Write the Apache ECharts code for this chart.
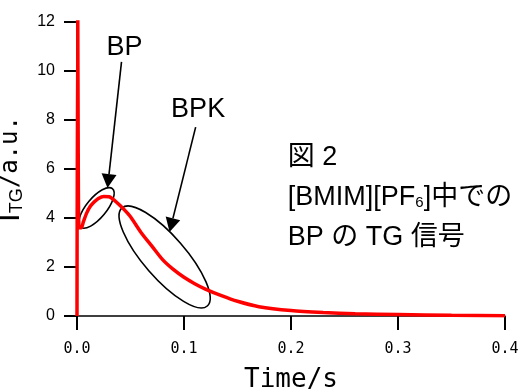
<!DOCTYPE html>
<html>
<head>
<meta charset="utf-8">
<script src="https://cdn.jsdelivr.net/npm/echarts@6/dist/echarts.min.js"></script>
<style>
html,body{margin:0;padding:0;background:#fff;}
#main{width:520px;height:389px;}
</style>
</head>
<body>
<div id="main"></div>
<script>
// 時間 (s) と TG 信号 (a.u.)
var timeS = [0, 0.0006, 0.0012, 0.002, 0.004, 0.006, 0.009, 0.012, 0.016, 0.020, 0.025, 0.030,
	0.035, 0.040, 0.045, 0.050, 0.060, 0.070, 0.080, 0.090, 0.100, 0.110, 0.120, 0.135,
	0.150, 0.170, 0.200, 0.230, 0.260, 0.300, 0.350, 0.400];
var signal = [0, 14, 6, 3.6, 3.6, 3.85, 4.2, 4.45, 4.65, 4.8, 4.88, 4.87,
	4.72, 4.52, 4.3, 4.05, 3.4, 2.85, 2.3, 1.9, 1.58, 1.32, 1.1, 0.83,
	0.6, 0.38, 0.22, 0.14, 0.09, 0.06, 0.03, 0.01];
var xTicks = [0, 0.1, 0.2, 0.3, 0.4];
var yTicks = [0, 2, 4, 6, 8, 10, 12];

// 注釈 (データ座標)
var bpText = [0.0445, 10.94];
var bpArrow = [[0.0416, 10.37], [0.0285, 5.22]];
var bpkText = [0.1132, 8.41];
var bpkArrow = [[0.1109, 7.71], [0.0865, 3.43]];
var smallEllipse = [0.0182, 4.41];
var largeEllipse = [0.0819, 2.41];
var noteAnchor = [0.197, 6.61];

var seriesData = [];
for (var i = 0; i < timeS.length; i++) {
	seriesData.push([timeS[i], signal[i]]);
}
var tickData = [];
for (var j = 0; j < xTicks.length; j++) {
	tickData.push([xTicks[j], yTicks[0]]);
}

var chart = echarts.init(document.getElementById('main'));
var axisFont = 'Liberation Sans, Arial, sans-serif';
var monoFont = 'DejaVu Sans Mono, monospace';

var option = {
	backgroundColor: '#ffffff',
	animation: false,
	grid: {left: 77, right: 15, top: 22, bottom: 73, outerBoundsMode: 'none'},
	xAxis: {
		type: 'value',
		min: xTicks[0],
		max: xTicks[xTicks.length - 1],
		interval: 0.1,
		name: 'Time/s',
		nameLocation: 'middle',
		nameGap: 51,
		nameTextStyle: {fontFamily: monoFont, fontSize: 26, color: '#000'},
		axisLine: {lineStyle: {color: '#000', width: 1.5}},
		axisTick: {show: true, length: 14, lineStyle: {color: '#000', width: 2}},
		axisLabel: {
			margin: 26, color: '#000', fontFamily: monoFont, fontSize: 15,
			formatter: function (v) { return v.toFixed(1); }
		},
		splitLine: {show: false}
	},
	yAxis: {
		type: 'value',
		min: yTicks[0],
		max: yTicks[yTicks.length - 1],
		interval: 2,
		name: '{i|I}{sub|TG}{u|/a.u.}',
		nameLocation: 'middle',
		nameRotate: 90,
		nameGap: 42,
		nameTextStyle: {
			color: '#000',
			rich: {
				i: {fontFamily: axisFont, fontSize: 31, lineHeight: 32},
				sub: {fontFamily: axisFont, fontSize: 18, verticalAlign: 'bottom', lineHeight: 18},
				u: {fontFamily: monoFont, fontSize: 24, lineHeight: 32}
			}
		},
		axisLine: {show: true, lineStyle: {color: '#000', width: 1.5}},
		axisTick: {show: true, length: 13, lineStyle: {color: '#000', width: 2}},
		axisLabel: {margin: 22, color: '#000', fontFamily: axisFont, fontSize: 16},
		splitLine: {show: false}
	},
	series: [{
		type: 'line',
		data: seriesData,
		showSymbol: false,
		smooth: 0.25,
		lineStyle: {color: '#ff0000', width: 3.5},
		itemStyle: {color: '#ff0000'}
	}, {
		// x軸の目盛り線 (軸の下向き)
		type: 'custom',
		data: tickData,
		silent: true,
		clip: false,
		z: 3,
		encode: {x: 0, y: 1},
		renderItem: function (params, api) {
			var p = api.coord([api.value(0), api.value(1)]);
			return {
				type: 'line',
				shape: {x1: p[0], y1: p[1], x2: p[0], y2: p[1] + 14},
				style: {stroke: '#000', lineWidth: 2}
			};
		}
	}]
};
chart.setOption(option);

function px(p) {
	return chart.convertToPixel({gridIndex: 0}, p);
}

function arrow(from, to) {
	var a = px(from), b = px(to);
	var dx = b[0] - a[0], dy = b[1] - a[1];
	var len = Math.sqrt(dx * dx + dy * dy);
	var ux = dx / len, uy = dy / len;
	var hl = 14, hw = 7.5;
	var bx = b[0] - ux * hl, by = b[1] - uy * hl;
	return [
		{type: 'line', shape: {x1: a[0], y1: a[1], x2: bx, y2: by},
			style: {stroke: '#000', lineWidth: 1.6}, silent: true},
		{type: 'polygon', shape: {points: [[b[0], b[1]], [bx - uy * hw, by + ux * hw], [bx + uy * hw, by - ux * hw]]},
			style: {fill: '#000'}, silent: true}
	];
}

function ellipse(c, rx, ry, rot) {
	var p = px(c);
	return {type: 'ellipse', x: p[0], y: p[1], rotation: rot,
		shape: {cx: 0, cy: 0, rx: rx, ry: ry},
		style: {fill: 'none', stroke: '#000', lineWidth: 1.6}, silent: true};
}

function label(pos, text, align) {
	var p = px(pos);
	return {type: 'text', x: p[0], y: p[1], silent: true,
		style: {text: text, fontFamily: axisFont, fontSize: 27, fill: '#000',
			align: align || 'center', verticalAlign: 'middle'}};
}

var note = px(noteAnchor);
var noteFont = 'Liberation Sans, Noto Sans CJK JP, sans-serif';
var graphics = [];
graphics = graphics.concat(arrow(bpArrow[0], bpArrow[1]));
graphics = graphics.concat(arrow(bpkArrow[0], bpkArrow[1]));
graphics.push(ellipse(smallEllipse, 25, 10, 0.88));
graphics.push(ellipse(largeEllipse, 65, 21, -0.855));
graphics.push(label(bpText, 'BP'));
graphics.push(label(bpkText, 'BPK'));
graphics.push({
	type: 'text', x: note[0], y: note[1] - 17, silent: true,
	style: {
		text: '図 2\n[BMIM][PF{sub|6}]中での\nBP の TG 信号',
		fontFamily: noteFont, fontSize: 27, lineHeight: 40, fill: '#000',
		align: 'left', verticalAlign: 'top',
		rich: {sub: {fontFamily: noteFont, fontSize: 15, verticalAlign: 'middle', padding: [12, 0, 0, 0]}}
	}
});

chart.setOption({graphic: graphics});
</script>
</body>
</html>
